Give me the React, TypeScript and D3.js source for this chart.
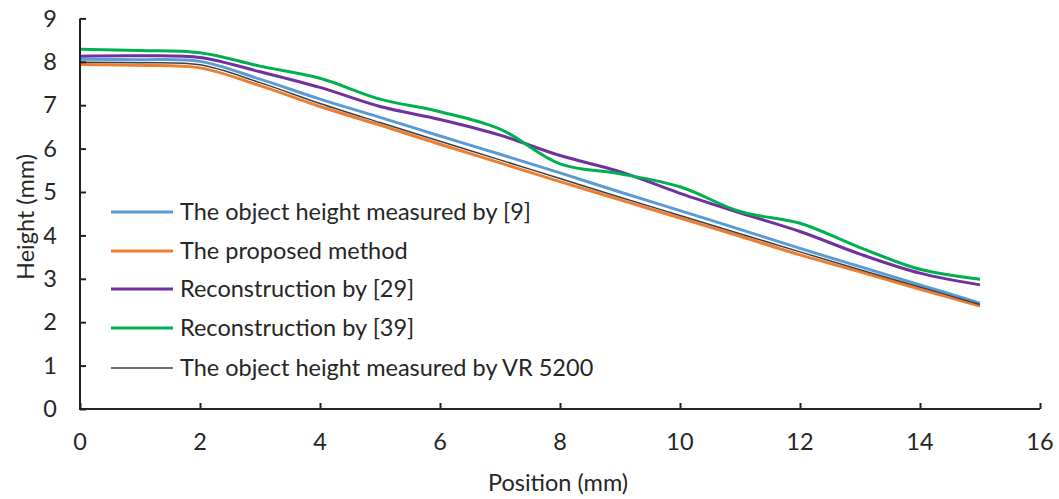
import React, { useEffect, useRef } from 'react'
import * as d3 from 'd3'

const positions = [0, 1, 2, 3, 4, 5, 6, 7, 8, 9, 10, 11, 12, 13, 14, 15]
const measuredBy9 = [8.06, 8.05, 8.01, 7.6, 7.14, 6.72, 6.29, 5.87, 5.44, 5.0, 4.57, 4.14, 3.7, 3.28, 2.86, 2.44]
const proposed = [7.94, 7.92, 7.86, 7.45, 6.97, 6.54, 6.1, 5.67, 5.24, 4.82, 4.4, 3.98, 3.55, 3.16, 2.76, 2.37]
const recon29 = [8.13, 8.14, 8.1, 7.77, 7.41, 6.97, 6.67, 6.31, 5.84, 5.47, 4.97, 4.52, 4.09, 3.57, 3.13, 2.86]
const recon39 = [8.29, 8.26, 8.21, 7.9, 7.62, 7.14, 6.85, 6.45, 5.65, 5.42, 5.12, 4.55, 4.28, 3.72, 3.22, 2.99]
const vr5200 = [7.99, 7.98, 7.93, 7.52, 7.04, 6.6, 6.17, 5.74, 5.31, 4.88, 4.46, 4.04, 3.62, 3.21, 2.81, 2.41]

const seriesNames = [
  'The object height measured by [9]',
  'The proposed method',
  'Reconstruction by [29]',
  'Reconstruction by [39]',
  'The object height measured by VR 5200',
]
const seriesValues = [measuredBy9, proposed, recon29, recon39, vr5200]
const seriesColors = ['#5B9BD5', '#ED7D31', '#7030A0', '#00B050', '#404040']
const seriesWidths = [3, 3, 3, 3, 1.5]

const xTicks = [0, 2, 4, 6, 8, 10, 12, 14, 16]
const yTicks = [0, 1, 2, 3, 4, 5, 6, 7, 8, 9]

const App = () => {
  const svgRef = useRef<SVGSVGElement>(null)

  useEffect(() => {
    const width = 1059
    const height = 499
    const font = 'Lato, "Open Sans", sans-serif'
    const fontSize = '23.5px'
    const textColor = '#262626'

    const x = d3.scaleLinear().domain([0, 16]).range([80, 1040])
    const y = d3.scaleLinear().domain([0, 9]).range([409, 18.4])

    const svg = d3.select(svgRef.current).attr('width', width).attr('height', height)
    svg.selectAll('*').remove()
    svg.append('rect').attr('width', width).attr('height', height).attr('fill', '#fff')

    const line = d3
      .line<number>()
      .x((_, i) => x(positions[i]))
      .y((d) => y(d))
      .curve(d3.curveCatmullRom.alpha(0.5))

    seriesValues.forEach((vals, i) => {
      svg
        .append('path')
        .datum(vals)
        .attr('d', line)
        .attr('fill', 'none')
        .attr('stroke', seriesColors[i])
        .attr('stroke-width', seriesWidths[i])
        .attr('stroke-linejoin', 'round')
    })

    // axes, ticks pointing inward
    const axisColor = '#222'
    svg
      .append('g')
      .attr('transform', `translate(0,${y(0)})`)
      .call(d3.axisTop(x).tickValues(xTicks).tickSize(6).tickFormat(() => ''))
      .call((g) => g.select('.domain').remove())
      .call((g) => g.selectAll('line').attr('stroke', axisColor).attr('stroke-width', 2))
    svg
      .append('g')
      .attr('transform', `translate(${x(0)},0)`)
      .call(d3.axisRight(y).tickValues(yTicks).tickSize(6).tickFormat(() => ''))
      .call((g) => g.select('.domain').remove())
      .call((g) => g.selectAll('line').attr('stroke', axisColor).attr('stroke-width', 2))
    svg
      .append('path')
      .attr('d', `M${x(0)},${y(9)}V${y(0)}H${x(16)}`)
      .attr('fill', 'none')
      .attr('stroke', axisColor)
      .attr('stroke-width', 2)

    svg
      .selectAll('.xl')
      .data(xTicks)
      .enter()
      .append('text')
      .attr('x', (d) => x(d))
      .attr('y', 450)
      .attr('text-anchor', 'middle')
      .style('font-family', font)
      .style('font-size', fontSize)
      .attr('fill', textColor)
      .text((d) => d)
    svg
      .selectAll('.yl')
      .data(yTicks)
      .enter()
      .append('text')
      .attr('x', 57)
      .attr('y', (d) => y(d))
      .attr('dy', '0.35em')
      .attr('text-anchor', 'end')
      .style('font-family', font)
      .style('font-size', fontSize)
      .attr('fill', textColor)
      .text((d) => d)

    svg
      .append('text')
      .attr('x', 558)
      .attr('y', 491)
      .attr('text-anchor', 'middle')
      .style('font-family', font)
      .style('font-size', fontSize)
      .attr('fill', textColor)
      .text('Position (mm)')
    svg
      .append('text')
      .attr('transform', 'translate(26,217) rotate(-90)')
      .attr('dy', '0.35em')
      .attr('text-anchor', 'middle')
      .style('font-family', font)
      .style('font-size', fontSize)
      .attr('fill', textColor)
      .text('Height (mm)')

    // legend
    const legendY = [212, 251, 289, 328, 368]
    seriesNames.forEach((name, i) => {
      svg
        .append('line')
        .attr('x1', 111)
        .attr('x2', 173)
        .attr('y1', legendY[i])
        .attr('y2', legendY[i])
        .attr('stroke', seriesColors[i])
        .attr('stroke-width', seriesWidths[i])
      svg
        .append('text')
        .attr('x', 180)
        .attr('y', legendY[i])
        .attr('dy', '0.35em')
        .style('font-family', font)
        .style('font-size', fontSize)
        .attr('fill', textColor)
        .text(name)
    })
  }, [])

  return (
    <div style={{ position: 'absolute', left: 0, top: 0 }}>
      <svg ref={svgRef}></svg>
    </div>
  )
}

export default App
